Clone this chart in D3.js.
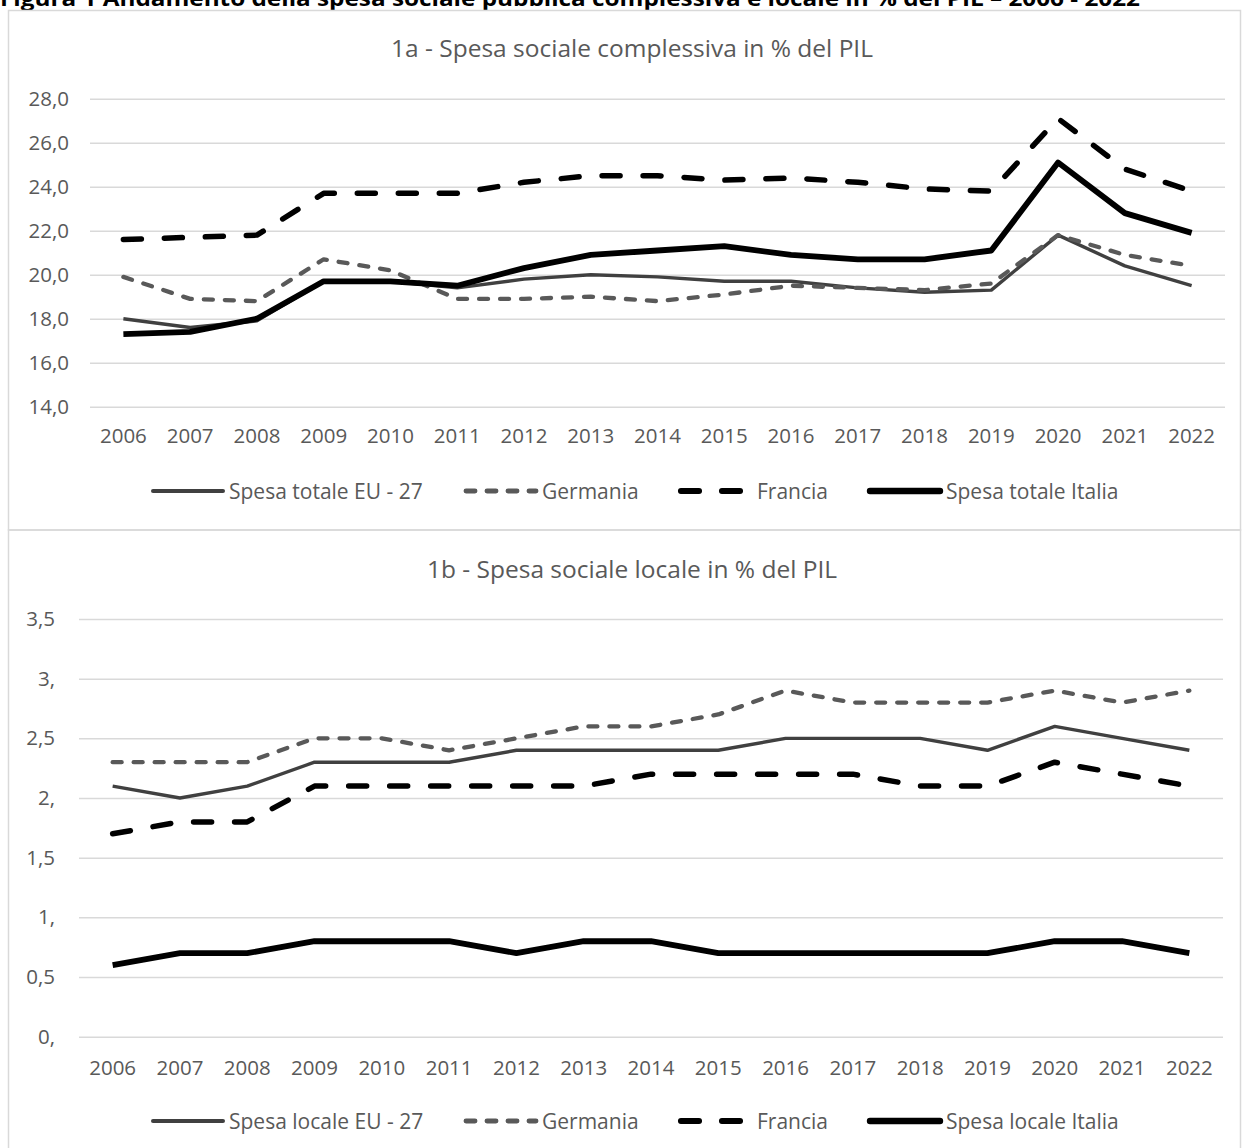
<!DOCTYPE html>
<html>
<head>
<meta charset="utf-8">
<script src="https://cdn.jsdelivr.net/npm/d3@7"></script>
<style>
  body { margin: 0; background: #fff; }
  text { font-family: "Open Sans", sans-serif; fill: #595959; }
</style>
</head>
<body>
<svg width="1243" height="1148"></svg>
<script>
'use strict';

// anni e serie
var anni = ["2006","2007","2008","2009","2010","2011","2012","2013","2014","2015","2016","2017","2018","2019","2020","2021","2022"];

var euTotale = [18.0,17.6,17.9,19.7,19.7,19.4,19.8,20.0,19.9,19.7,19.7,19.4,19.2,19.3,21.8,20.4,19.5];
var germaniaTotale = [19.9,18.9,18.8,20.7,20.2,18.9,18.9,19.0,18.8,19.1,19.5,19.4,19.3,19.6,21.8,20.9,20.4];
var franciaTotale = [21.6,21.7,21.8,23.7,23.7,23.7,24.2,24.5,24.5,24.3,24.4,24.2,23.9,23.8,27.1,24.8,23.8];
var italiaTotale = [17.3,17.4,18.0,19.7,19.7,19.5,20.3,20.9,21.1,21.3,20.9,20.7,20.7,21.1,25.1,22.8,21.9];

var euLocale = [2.1,2.0,2.1,2.3,2.3,2.3,2.4,2.4,2.4,2.4,2.5,2.5,2.5,2.4,2.6,2.5,2.4];
var germaniaLocale = [2.3,2.3,2.3,2.5,2.5,2.4,2.5,2.6,2.6,2.7,2.9,2.8,2.8,2.8,2.9,2.8,2.9];
var franciaLocale = [1.7,1.8,1.8,2.1,2.1,2.1,2.1,2.1,2.2,2.2,2.2,2.2,2.1,2.1,2.3,2.2,2.1];
var italiaLocale = [0.6,0.7,0.7,0.8,0.8,0.8,0.7,0.8,0.8,0.7,0.7,0.7,0.7,0.7,0.8,0.8,0.7];

var tickTotale = [14,16,18,20,22,24,26,28];
var etichetteTotale = ["14,0","16,0","18,0","20,0","22,0","24,0","26,0","28,0"];
var tickLocale = [0,0.5,1,1.5,2,2.5,3,3.5];
var etichetteLocale = ["0,","0,5","1,","1,5","2,","2,5","3,","3,5"];

var nomiTotale = ["Spesa totale EU - 27","Germania","Francia","Spesa totale Italia"];
var nomiLocale = ["Spesa locale EU - 27","Germania","Francia","Spesa locale Italia"];

// stili delle quattro serie
var stili = [
    {colore: "#404040", spessore: 3.4, tratteggio: null},
    {colore: "#595959", spessore: 4.3, tratteggio: "9,12"},
    {colore: "#000000", spessore: 5.5, tratteggio: "18,23"},
    {colore: "#000000", spessore: 5.8, tratteggio: null}
];
var legendaX = [153, 466, 681, 870];

var svg = d3.select("svg");

svg.append("rect").attr("width", 1243).attr("height", 1148).attr("fill", "#fff");

// titolo della figura, tagliato in alto
svg.append("text")
    .attr("x", 0).attr("y", 6)
    .attr("textLength", 1140).attr("lengthAdjust", "spacingAndGlyphs")
    .style("font-weight", "bold").style("font-size", "21px").style("fill", "#000")
    .text("Figura 1 Andamento della spesa sociale pubblica complessiva e locale in % del PIL \u2013 2006 - 2022");

// cornici dei due grafici
svg.append("rect")
    .attr("x", 8.5).attr("y", 10.5).attr("width", 1232).attr("height", 519.5)
    .attr("fill", "none").attr("stroke", "#d9d9d9").attr("stroke-width", 1.5);
svg.append("rect")
    .attr("x", 8.5).attr("y", 530).attr("width", 1232).attr("height", 640)
    .attr("fill", "none").attr("stroke", "#d9d9d9").attr("stroke-width", 1.5);

var disegnaGrafico = function(cfg) {
    var x = d3.scaleBand().domain(anni).range([cfg.left, cfg.right]);
    var y = d3.scaleLinear().domain(cfg.dominio).range([cfg.bottom, cfg.top]);

    var g = svg.append("g");

    g.append("text")
        .attr("x", 632).attr("y", cfg.titoloY)
        .attr("text-anchor", "middle")
        .style("font-size", "24.5px")
        .text(cfg.titolo);

    // griglia orizzontale
    g.append("g")
        .attr("transform", "translate(" + cfg.left + ",0)")
        .call(d3.axisLeft(y).tickValues(cfg.tick).tickSize(-(cfg.right - cfg.left)).tickFormat(""))
        .call(function(a) {
            a.select(".domain").remove();
            a.selectAll("line").attr("stroke", "#d9d9d9").attr("stroke-width", 1.5);
        });

    // etichette asse y
    g.append("g")
        .attr("transform", "translate(" + cfg.labelX + ",0)")
        .call(d3.axisLeft(y).tickValues(cfg.tick).tickSize(0).tickPadding(0)
            .tickFormat(function(d, i) { return cfg.etichette[i]; }))
        .call(function(a) {
            a.select(".domain").remove();
            a.selectAll("text").style("font-size", "20.5px").style("font-family", null).attr("fill", null);
        });

    // etichette asse x
    g.append("g")
        .attr("transform", "translate(0," + cfg.asseXY + ")")
        .call(d3.axisBottom(x).tickSize(0).tickPadding(0))
        .call(function(a) {
            a.select(".domain").remove();
            a.selectAll("text").attr("dy", "0").style("font-size", "20.5px").style("font-family", null).attr("fill", null);
        });

    var linea = d3.line()
        .x(function(d, i) { return x(anni[i]) + x.bandwidth() / 2; })
        .y(function(d) { return y(d); });

    cfg.serie.forEach(function(s, i) {
        var st = stili[i];
        g.append("path")
            .datum(s)
            .attr("d", linea)
            .attr("fill", "none")
            .attr("stroke", st.colore)
            .attr("stroke-width", st.spessore)
            .attr("stroke-linejoin", "round")
            .attr("stroke-linecap", st.tratteggio ? "round" : "butt")
            .attr("stroke-dasharray", st.tratteggio);
    });

    // legenda
    var leg = g.selectAll(".leg").data(cfg.nomi).enter().append("g")
        .attr("transform", function(d, i) { return "translate(" + legendaX[i] + "," + cfg.legendaY + ")"; });
    leg.append("line")
        .attr("x1", 0).attr("x2", 70).attr("y1", 0).attr("y2", 0)
        .attr("stroke", function(d, i) { return stili[i].colore; })
        .attr("stroke-width", function(d, i) { return stili[i].spessore + 0.6; })
        .attr("stroke-linecap", "round")
        .attr("stroke-dasharray", function(d, i) { return stili[i].tratteggio; });
    leg.append("text")
        .attr("x", 76).attr("y", 7.5)
        .style("font-size", "21px")
        .text(function(d) { return d; });
};

disegnaGrafico({
    titolo: "1a - Spesa sociale complessiva in % del PIL",
    titoloY: 57,
    left: 90, right: 1225, top: 98.7, bottom: 406.7,
    dominio: [14, 28], tick: tickTotale, etichette: etichetteTotale,
    labelX: 69, asseXY: 443, legendaY: 491,
    nomi: nomiTotale,
    serie: [euTotale, germaniaTotale, franciaTotale, italiaTotale]
});

disegnaGrafico({
    titolo: "1b - Spesa sociale locale in % del PIL",
    titoloY: 578,
    left: 79, right: 1223, top: 619, bottom: 1036.7,
    dominio: [0, 3.5], tick: tickLocale, etichette: etichetteLocale,
    labelX: 55, asseXY: 1075, legendaY: 1121,
    nomi: nomiLocale,
    serie: [euLocale, germaniaLocale, franciaLocale, italiaLocale]
});
</script>
</body>
</html>
